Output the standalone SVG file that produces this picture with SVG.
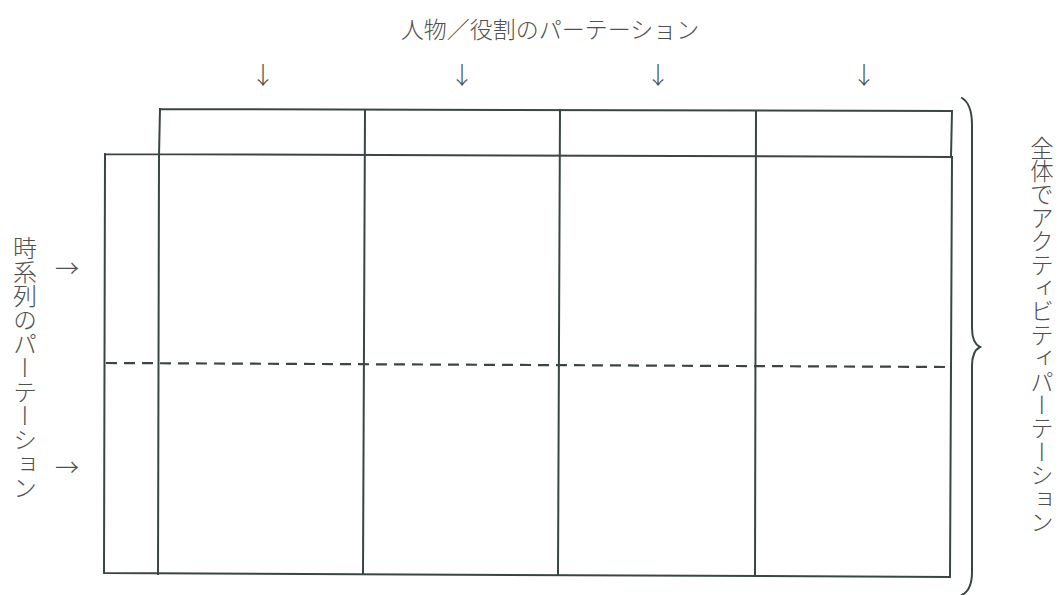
<svg xmlns="http://www.w3.org/2000/svg" width="1059" height="595" viewBox="0 0 1059 595">
<style>
.ln{stroke:#3b4545;stroke-width:2;fill:none;stroke-linecap:square}
.dash{stroke:#3b4545;stroke-width:2.2;fill:none;stroke-dasharray:11 7}
.t{font-family:"Noto Sans CJK JP","Noto Sans",sans-serif;font-size:23px;font-weight:300;fill:#505050}
.v{writing-mode:vertical-rl}
.a{font-family:"Noto Sans CJK JP",sans-serif;font-size:24px;font-weight:300;fill:#505050;text-anchor:middle}
</style>
<rect width="1059" height="595" fill="#fff"/>
<g id="labels">
<text class="t" x="550" y="38" text-anchor="middle">人物／役割のパーテーション</text>
<text class="t v" x="25" y="236" style="font-size:24px">時系列のパーテーション</text>
<text class="t v" x="1042" y="136" style="font-size:23.4px">全体でアクティビティパーテーション</text>
</g>
<g id="arrows">
<text class="a" x="263" y="84">↓</text>
<text class="a" x="462" y="84">↓</text>
<text class="a" x="658" y="84">↓</text>
<text class="a" x="864" y="84">↓</text>
<text class="a" x="67" y="277">→</text>
<text class="a" x="67" y="476">→</text>
</g>
<g id="grid">
<path class="ln" d="M160 109 L952 111 L951 157 M160 109 L159 156"/>
<path class="ln" d="M105 154 L952 157 M105 154 L104 573 L950 577 L952 157"/>
<path class="ln" d="M159 156 L158 574 M365 110 L363 574 M560 110 L558 575 M756 111 L755 576"/>
<path class="dash" d="M106 363 L950 367"/>
</g>
<g id="brace">
<path class="ln" stroke-linecap="round" d="M962 98 Q972 104 972 125 L972 328 Q972 343 980 347 Q972 351 972 366 L972 572 Q972 590 962 595"/>
</g>
</svg>
